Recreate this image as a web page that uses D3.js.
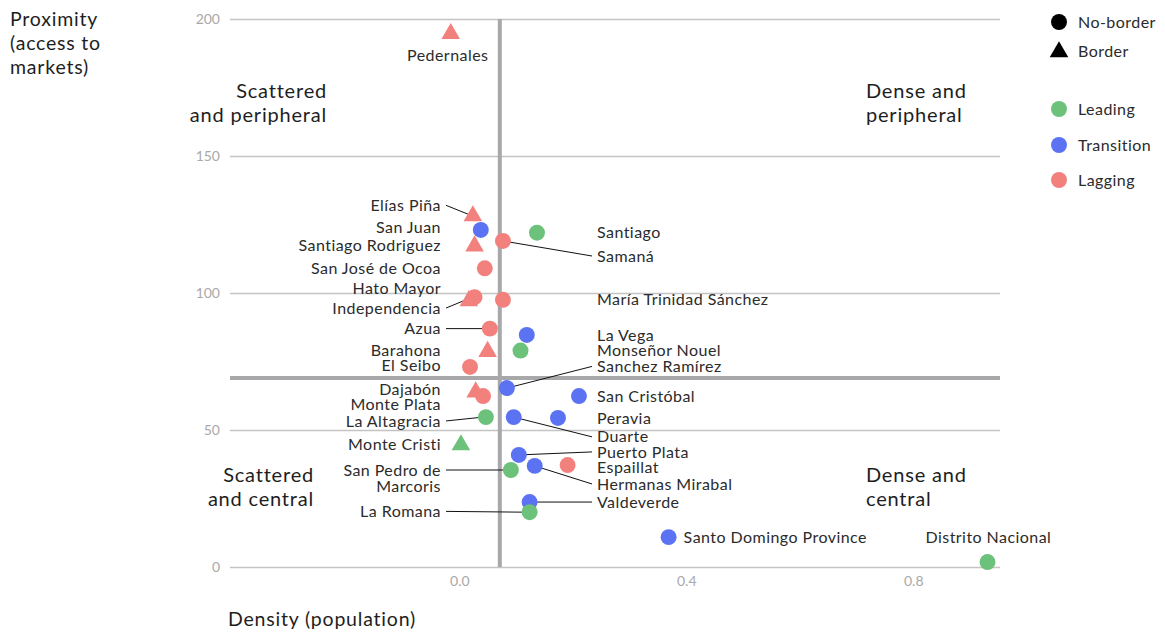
<!DOCTYPE html>
<html>
<head>
<meta charset="utf-8">
<script src="https://cdn.jsdelivr.net/npm/d3@7"></script>
<style>
  html, body { margin: 0; padding: 0; background: #fff; }
  svg { display: block; font-family: Lato, "Open Sans", sans-serif; }
</style>
</head>
<body>
<svg id="chart" width="1165" height="632"></svg>
<script>
// Provinces: density (x), proximity (y), group and border status
const provinces = ["Pedernales","Elías Piña","San Juan","Santiago","Samaná","Santiago Rodriguez",
  "San José de Ocoa","Hato Mayor","Independencia","María Trinidad Sánchez","Azua","La Vega",
  "Monseñor Nouel","Barahona","El Seibo","Sanchez Ramírez","Dajabón","Monte Plata","San Cristóbal",
  "La Altagracia","Duarte","Peravia","Monte Cristi","Puerto Plata","Espaillat","Hermanas Mirabal",
  "San Pedro de Marcoris","Valdeverde","La Romana","Santo Domingo Province","Distrito Nacional"];
const density = [-0.016,0.023,0.037,0.136,0.076,0.026,0.044,0.026,0.016,0.076,0.053,0.118,
  0.107,0.049,0.018,0.083,0.028,0.041,0.210,0.046,0.095,0.173,0.002,0.104,0.190,0.132,
  0.090,0.123,0.123,0.368,0.930];
const proximity = [195,128.5,123,122,119,117.5,109,98.5,97.5,97.5,87,84.7,79,79,73,65.3,64.2,
  62.4,62.4,54.7,54.7,54.4,44.9,40.9,37.2,36.9,35.4,23.7,20,10.9,1.8];
const group = ["Lagging","Lagging","Transition","Leading","Lagging","Lagging","Lagging","Lagging",
  "Lagging","Lagging","Lagging","Transition","Leading","Lagging","Lagging","Transition","Lagging",
  "Lagging","Transition","Leading","Transition","Transition","Leading","Transition","Lagging",
  "Transition","Leading","Transition","Leading","Transition","Leading"];
const border = ["Border","Border","No-border","No-border","No-border","Border","No-border","No-border",
  "Border","No-border","No-border","No-border","No-border","Border","No-border","No-border","Border",
  "No-border","No-border","No-border","No-border","No-border","Border","No-border","No-border",
  "No-border","No-border","No-border","No-border","No-border","No-border"];

const xTicks = [0, 0.4, 0.8];
const yTicks = [0, 50, 100, 150, 200];
const groups = ["Leading", "Transition", "Lagging"];
const shapes = ["No-border", "Border"];
// Quadrant split: density threshold and proximity threshold
const densitySplit = 0.0705;
const proximitySplit = 69;

// Label placement: side of the column, label height in proximity units, optional leader line
const labelLayout = {
  "Pedernales": {side: "top"},
  "Elías Piña": {side: "left", y: 132, leader: true},
  "San Juan": {side: "left", y: 123.8},
  "Santiago Rodriguez": {side: "left", y: 117.5},
  "San José de Ocoa": {side: "left", y: 109},
  "Hato Mayor": {side: "left", y: 101.5},
  "Independencia": {side: "left", y: 94.5, leader: true},
  "Azua": {side: "left", y: 87, leader: true},
  "Barahona": {side: "left", y: 79},
  "El Seibo": {side: "left", y: 73.5},
  "Dajabón": {side: "left", y: 64.7},
  "Monte Plata": {side: "left", y: 59.2},
  "La Altagracia": {side: "left", y: 53.3, leader: true},
  "Monte Cristi": {side: "left", y: 44.9},
  "San Pedro de Marcoris": {side: "left", y: 35.4, leader: true, lines: ["San Pedro de", "Marcoris"]},
  "La Romana": {side: "left", y: 20.3, leader: true},
  "Santiago": {side: "right", y: 122},
  "Samaná": {side: "right", y: 113.5, leader: true},
  "María Trinidad Sánchez": {side: "right", y: 97.5},
  "La Vega": {side: "right", y: 84.7},
  "Monseñor Nouel": {side: "right", y: 79},
  "Sanchez Ramírez": {side: "right", y: 73.2, leader: true},
  "San Cristóbal": {side: "right", y: 62.4},
  "Peravia": {side: "right", y: 54.4},
  "Duarte": {side: "right", y: 47.5, leader: true},
  "Puerto Plata": {side: "right", y: 42, leader: true},
  "Espaillat": {side: "right", y: 36.3},
  "Hermanas Mirabal": {side: "right", y: 30.3, leader: true},
  "Valdeverde": {side: "right", y: 23.7, leader: true},
  "Santo Domingo Province": {side: "after"},
  "Distrito Nacional": {side: "above"}
};

const colors = {Leading: "#6cc17b", Transition: "#5b73f2", Lagging: "#f2817d"};

const svg = d3.select("#chart");
const x = d3.scaleLinear().domain([-0.405, 0.952]).range([230, 1000]);
const y = d3.scaleLinear().domain([0, 200]).range([567, 19]);

const textColor = "#2b2b2b";
const tickColor = "#a9a9a9";
const labelSpacing = "0.45px";

// Horizontal gridlines and y tick labels
const yAxis = d3.axisLeft(y).tickValues(yTicks).tickSize(-(x.range()[1] - x.range()[0])).tickPadding(10);
const gy = svg.append("g").attr("transform", `translate(${x.range()[0]},0)`).call(yAxis);
gy.select(".domain").remove();
gy.selectAll(".tick line").attr("stroke", "#c4c4c4").attr("stroke-width", 1.4);
gy.selectAll(".tick text").attr("fill", tickColor).attr("font-size", 14)
  .attr("font-family", "Lato, sans-serif");

// X tick labels
const gx = svg.append("g").attr("transform", `translate(0,${y(0)})`);
gx.selectAll("text").data(xTicks).join("text")
  .attr("x", d => x(d)).attr("y", 19)
  .attr("text-anchor", "middle").attr("fill", tickColor).attr("font-size", 14)
  .text(d => d3.format(".1f")(d));

// Quadrant split lines
svg.append("line")
  .attr("x1", x(densitySplit)).attr("x2", x(densitySplit))
  .attr("y1", y(200)).attr("y2", y(0))
  .attr("stroke", "#a8a8ab").attr("stroke-width", 4);
svg.append("line")
  .attr("x1", x.range()[0]).attr("x2", x.range()[1])
  .attr("y1", y(proximitySplit)).attr("y2", y(proximitySplit))
  .attr("stroke", "#a8a8ab").attr("stroke-width", 4);

// Quadrant names
const quadrants = [
  {lines: ["Scattered", "and peripheral"], xPx: 327, y: 171, anchor: "end"},
  {lines: ["Dense and", "peripheral"], xPx: 866, y: 171, anchor: "start"},
  {lines: ["Scattered", "and central"], xPx: 314, y: 31, anchor: "end"},
  {lines: ["Dense and", "central"], xPx: 866, y: 31, anchor: "start"}
];
quadrants.forEach(q => {
  const t = svg.append("text").attr("text-anchor", q.anchor).attr("fill", "#1e1e1e")
    .attr("font-size", 20).attr("letter-spacing", "0.8px").attr("y", y(q.y));
  q.lines.forEach((l, i) => t.append("tspan").attr("x", q.xPx).attr("dy", i ? 24 : 0).text(l));
});

// Axis titles
const yt = svg.append("text").attr("fill", "#1e1e1e").attr("font-size", 19.5)
  .attr("letter-spacing", "0.8px").attr("y", 26);
["Proximity", "(access to", "markets)"].forEach((l, i) =>
  yt.append("tspan").attr("x", 10).attr("dy", i ? 24 : 0).text(l));
svg.append("text").attr("x", 228).attr("y", 626).attr("fill", "#1e1e1e").attr("font-size", 19.5)
  .attr("letter-spacing", "0.8px").text("Density (population)");

const data = provinces.map((name, i) => ({
  name, x: density[i], y: proximity[i], group: group[i], border: border[i],
  layout: labelLayout[name]
}));

const leftLabelX = 441, rightLabelX = 597;

// Leader lines
const leaders = svg.append("g").attr("stroke", "#111").attr("stroke-width", 1);
data.filter(d => d.layout.leader).forEach(d => {
  const px = x(d.x), py = y(d.y);
  if (d.layout.side === "left") {
    leaders.append("line").attr("x1", leftLabelX + 5).attr("y1", y(d.layout.y))
      .attr("x2", px - 3).attr("y2", py);
  } else {
    leaders.append("line").attr("x1", px).attr("y1", py)
      .attr("x2", rightLabelX - 5).attr("y2", y(d.layout.y));
  }
});

// Points
const tri = d3.symbol().type(d3.symbolTriangle).size(150);
const circ = d3.symbol().type(d3.symbolCircle).size(200);
svg.append("g").selectAll("path").data(data).join("path")
  .attr("transform", d => `translate(${x(d.x)},${y(d.y) + (d.border === "Border" ? 1 : 0)})`)
  .attr("d", d => d.border === "Border" ? tri() : circ())
  .attr("fill", d => colors[d.group]);

// Labels
const labels = svg.append("g").attr("fill", textColor).attr("font-size", 16)
  .attr("letter-spacing", labelSpacing);
data.forEach(d => {
  const L = d.layout;
  const lines = L.lines || [d.name];
  let tx, ty, anchor;
  if (L.side === "left") { tx = leftLabelX; ty = y(L.y); anchor = "end"; }
  else if (L.side === "right") { tx = rightLabelX; ty = y(L.y); anchor = "start"; }
  else if (L.side === "top") { tx = x(d.x) - 3; ty = y(d.y) + 23; anchor = "middle"; }
  else if (L.side === "after") { tx = x(d.x) + 15; ty = y(d.y); anchor = "start"; }
  else { tx = x(d.x) - 62; ty = y(d.y) - 25; anchor = "start"; }
  const t = labels.append("text").attr("text-anchor", anchor).attr("y", ty);
  lines.forEach((l, i) => t.append("tspan").attr("x", tx).attr("dy", i ? 16 : "0.35em").text(l));
});

// Legend
const legend = svg.append("g").attr("font-size", 16).attr("fill", textColor)
  .attr("letter-spacing", labelSpacing);
const legendItems = [
  {label: shapes[0], shape: "circle", color: "#000", yPx: 22},
  {label: shapes[1], shape: "triangle", color: "#000", yPx: 51},
  {label: groups[0], shape: "circle", color: colors.Leading, yPx: 109},
  {label: groups[1], shape: "circle", color: colors.Transition, yPx: 145},
  {label: groups[2], shape: "circle", color: colors.Lagging, yPx: 180}
];
legendItems.forEach(it => {
  legend.append("path")
    .attr("transform", `translate(1059,${it.yPx + (it.shape === "triangle" ? 1 : 0)})`)
    .attr("d", it.shape === "triangle" ? tri() : circ())
    .attr("fill", it.color);
  legend.append("text").attr("x", 1078).attr("y", it.yPx).attr("dy", "0.35em").text(it.label);
});
</script>
</body>
</html>
